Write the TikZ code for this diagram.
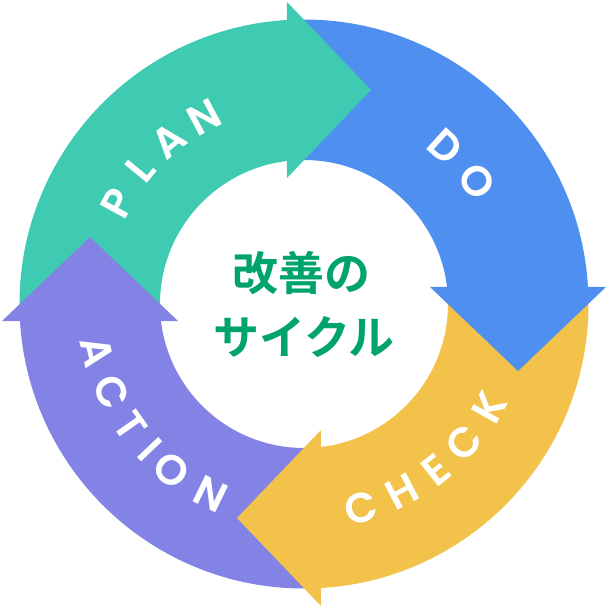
\documentclass[tikz,border=0pt]{standalone}
\usepackage{fontspec}
\newfontfamily\cjk{Noto Sans CJK JP Bold}
\newfontfamily\lat{Poppins SemiBold}
\definecolor{cgreen}{HTML}{3FCBB1}
\definecolor{cblue}{HTML}{4E8FEF}
\definecolor{cyellow}{HTML}{F2C24A}
\definecolor{cpurple}{HTML}{8383E5}
\definecolor{ctext}{HTML}{00A36C}
\begin{document}
\begin{tikzpicture}[x=1pt,y=1pt,
  letter/.style={text=white, inner sep=0pt, font=\lat\fontsize{42}{42}\selectfont},
  title/.style={text=ctext, inner sep=0pt, font=\cjk\fontsize{46}{46}\selectfont}]
\useasboundingbox (-304,-304) rectangle (304,304);
% ring bodies
\foreach \c/\r in {cgreen/0, cblue/-90, cyellow/-180, cpurple/90} {
  \fill[\c, rotate=\r] (180:284.5) arc[start angle=180, end angle=90, radius=284.5]
    -- (90:144) arc[start angle=90, end angle=180, radius=144] -- cycle;
}
% arrow heads
\foreach \c/\r in {cgreen/0, cblue/-90, cyellow/-180, cpurple/90} {
  \fill[\c, rotate=\r] (-17,126) -- (67,214) -- (-17,302) -- cycle;
}
% outer-facing labels
\foreach \ch/\a [count=\i] in {P/151.5, L/140.5, A/129.5, N/118, D/48, O/35.5} {
  \node[letter, rotate=\a-90] (out\i) at (\a:212) {\ch};
}
% inner-facing labels
\foreach \ch/\a [count=\i] in {C/-74.5, H/-62.5, E/-51.5, C/-41, K/-29, A/193, C/204.5, T/215, I/223.5, O/231.5, N/244} {
  \node[letter, rotate=\a+90] (in\i) at (\a:212) {\ch};
}
\node[title] (title1) at (-2,31) {改善の};
\node[title] (title2) at (0,-33) {サイクル};
\end{tikzpicture}
\end{document}
